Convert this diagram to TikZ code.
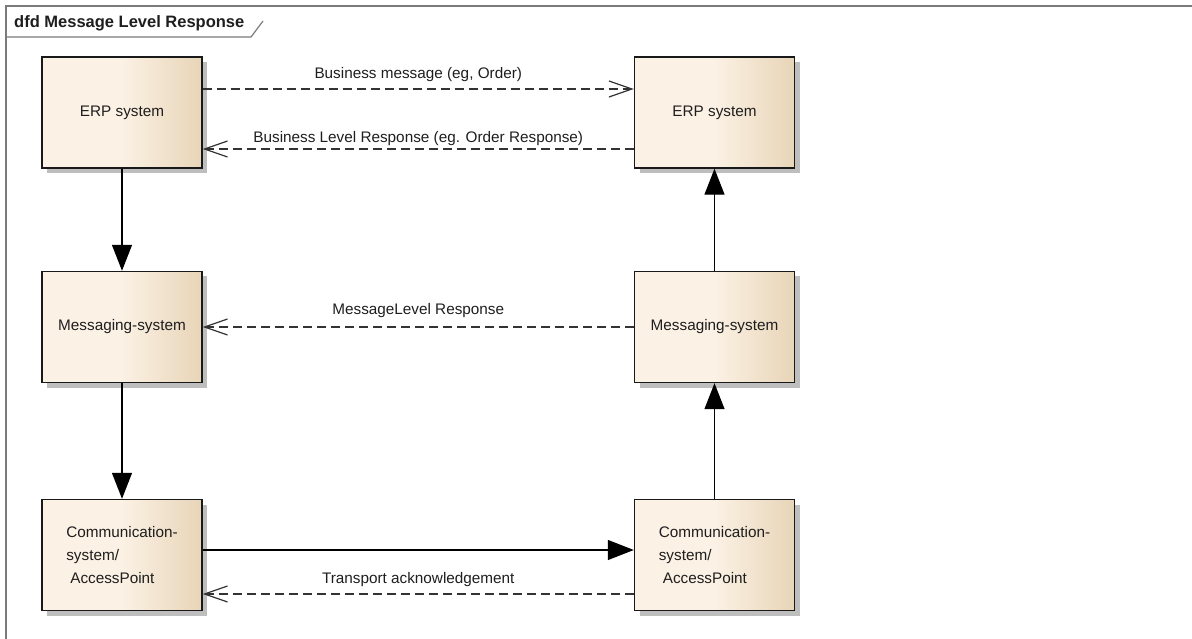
\documentclass[tikz,border=0pt]{standalone}
\usepackage{fontspec}
\setmainfont{Liberation Sans}
\usetikzlibrary{arrows.meta,shadows}
\definecolor{boxL}{HTML}{FBF1E4}
\definecolor{boxR}{HTML}{E8D5B8}
\definecolor{shadowc}{HTML}{BEBEBE}
\definecolor{framec}{HTML}{7A7A7A}
\definecolor{txt}{HTML}{1E1E1E}
\begin{document}
\begin{tikzpicture}[x=1pt,y=-1pt,
  blk/.style={draw=black!90, line width=1.4pt, minimum width=160pt, minimum height=111pt,
    inner sep=0pt, left color=boxL, right color=boxR, middle color=boxL, text=txt,
    font=\fontsize{15.3}{23}\selectfont, align=left,
    drop shadow={shadow xshift=5pt, shadow yshift=-5pt, fill=shadowc, opacity=1}},
  dashline/.style={draw=black!80, line width=1.2pt, dash pattern=on 9pt off 5pt,
    -{Straight Barb[length=23pt,width=16pt,line width=1.2pt]}},
  solidline/.style={draw=black, line width=1.3pt, -{Triangle[length=26pt,width=20pt]}},
  lbl/.style={font=\fontsize{15.3}{18}\selectfont, text=txt, inner sep=0pt}
]
\useasboundingbox (0,0) rectangle (1192,639);
% frame
\draw[framec, line width=1.3pt] (6,639) -- (6,6) -- (1192,6);
\draw[framec, line width=1.2pt] (6,37) -- (251,37) -- (263,21);
\node[anchor=base west, inner sep=0pt, font=\fontsize{16.5}{18}\selectfont\bfseries, text=txt] (title) at (14,28) {dfd Message Level Response};
% boxes
\node[blk] (erpL) at (122,112.5) {ERP system};
\node[blk] (erpR) at (714.5,112.5) {ERP system};
\node[blk] (msgL) at (122,327) {Messaging-system};
\node[blk] (msgR) at (714.5,327) {Messaging-system};
\node[blk] (comL) at (122,555) {Communication-\\system/\\\hspace{4pt}AccessPoint};
\node[blk] (comR) at (714.5,555) {Communication-\\system/\\\hspace{4pt}AccessPoint};
% dashed flows
\draw[dashline] ([yshift=23.5pt]erpL.east) -- node[lbl, midway, yshift=14pt] {Business message (eg, Order)} ([yshift=23.5pt]erpR.west);
\draw[dashline] ([yshift=-36.5pt]erpR.west) -- node[lbl, midway, yshift=10pt] {Business Level Response (eg. Order Response)} ([yshift=-36.5pt]erpL.east);
\draw[dashline] (msgR.west) -- node[lbl, midway, yshift=16pt] {MessageLevel Response} (msgL.east);
\draw[dashline] ([yshift=-39pt]comR.west) -- node[lbl, midway, yshift=14pt] {Transport acknowledgement} ([yshift=-39pt]comL.east);
% solid flows
\draw[solidline] (erpL.south) -- (msgL.north);
\draw[solidline] (msgL.south) -- (comL.north);
\draw[solidline] ([yshift=5pt]comL.east) -- ([yshift=5pt]comR.west);
\draw[solidline] (comR.north) -- (msgR.south);
\draw[solidline] (msgR.north) -- (erpR.south);
\end{tikzpicture}
\end{document}
